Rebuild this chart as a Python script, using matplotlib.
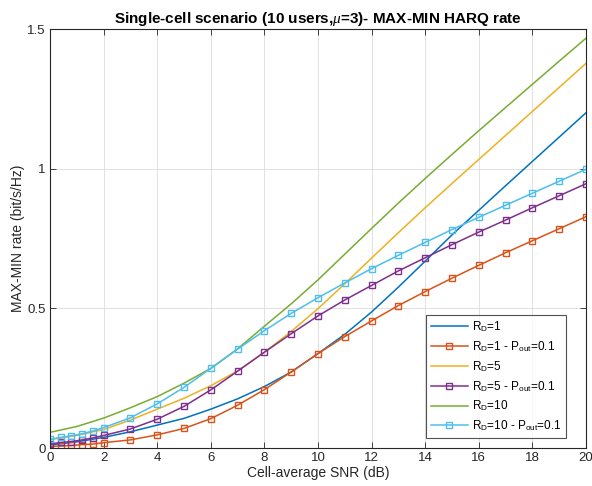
import matplotlib
matplotlib.use("Agg")
import matplotlib.pyplot as plt

plt.rcParams['font.family'] = ['Liberation Sans', 'DejaVu Sans']
plt.rcParams['mathtext.fontset'] = 'custom'
plt.rcParams['mathtext.rm'] = 'Liberation Sans'
plt.rcParams['mathtext.it'] = 'Liberation Serif:italic'

# SNR grids
snr_line = [0, 1, 2, 3, 4, 5, 6, 7, 8, 9, 10, 11, 12, 13, 14, 15, 16, 17, 18, 19, 20]
snr_mark = [0, 0.4, 0.8, 1.2, 1.6, 2, 3, 4, 5, 6, 7, 8, 9, 10, 11, 12, 13, 14, 15, 16, 17, 18, 19, 20]

# Smooth curves (no markers)
rd1 = [0.011, 0.022, 0.038, 0.058, 0.082, 0.106, 0.139, 0.176, 0.220, 0.272, 0.338, 0.407,
       0.487, 0.576, 0.669, 0.763, 0.851, 0.939, 1.026, 1.113, 1.200]
rd5 = [0.030, 0.045, 0.066, 0.100, 0.139, 0.178, 0.223, 0.276, 0.343, 0.417, 0.499, 0.588,
       0.680, 0.771, 0.860, 0.947, 1.033, 1.119, 1.205, 1.291, 1.377]
rd10 = [0.056, 0.077, 0.107, 0.144, 0.184, 0.232, 0.285, 0.355, 0.436, 0.516, 0.602, 0.694,
        0.786, 0.877, 0.965, 1.051, 1.136, 1.219, 1.302, 1.385, 1.467]

# Curves with markers (P_out = 0.1)
rd1_p = [0.006, 0.007, 0.009, 0.012, 0.014, 0.019, 0.029, 0.047, 0.070, 0.105, 0.153, 0.209,
         0.272, 0.338, 0.399, 0.455, 0.510, 0.560, 0.608, 0.654, 0.699, 0.742, 0.785, 0.828]
rd5_p = [0.014, 0.020, 0.023, 0.029, 0.036, 0.045, 0.068, 0.103, 0.149, 0.208, 0.275, 0.343,
         0.409, 0.473, 0.530, 0.582, 0.634, 0.681, 0.728, 0.773, 0.816, 0.860, 0.903, 0.946]
rd10_p = [0.031, 0.038, 0.044, 0.051, 0.061, 0.073, 0.108, 0.158, 0.217, 0.285, 0.354, 0.420,
          0.482, 0.538, 0.591, 0.642, 0.690, 0.736, 0.782, 0.826, 0.869, 0.912, 0.955, 0.998]

labels = [r'R$_\mathrm{D}$=1', r'R$_\mathrm{D}$=1 - P$_\mathrm{out}$=0.1',
          r'R$_\mathrm{D}$=5', r'R$_\mathrm{D}$=5 - P$_\mathrm{out}$=0.1',
          r'R$_\mathrm{D}$=10', r'R$_\mathrm{D}$=10 - P$_\mathrm{out}$=0.1']
colors = ['#0072BD', '#D95319', '#EDB120', '#7E2F8E', '#77AC30', '#4DBEEE']

fig = plt.figure(figsize=(5.92, 4.86), dpi=100)
ax = fig.add_axes([50/592, 38/486, 536/592, 419/486])

mk = dict(marker='s', markersize=5, markerfacecolor='none', markeredgewidth=1.0)
ax.plot(snr_line, rd1, color=colors[0], lw=1.1, label=labels[0])
ax.plot(snr_mark, rd1_p, color=colors[1], lw=1.1, label=labels[1], **mk)
ax.plot(snr_line, rd5, color=colors[2], lw=1.1, label=labels[2])
ax.plot(snr_mark, rd5_p, color=colors[3], lw=1.1, label=labels[3], **mk)
ax.plot(snr_line, rd10, color=colors[4], lw=1.1, label=labels[4])
ax.plot(snr_mark, rd10_p, color=colors[5], lw=1.1, label=labels[5], **mk)

ax.set_xlim(0, 20)
ax.set_ylim(0, 1.5)
ax.set_xticks(range(0, 21, 2))
ax.set_yticks([0, 0.5, 1, 1.5])
ax.set_yticklabels(['0', '0.5', '1', '1.5'])
ax.grid(True, color='#dcdcdc', lw=0.6)
ax.set_axisbelow(True)
ax.tick_params(direction='in', top=True, right=True, labelsize=9.5, length=4, width=0.6,
               colors='#262626', pad=3)
for s in ax.spines.values():
    s.set_color('#262626')
    s.set_linewidth(0.8)

ax.set_xlabel('Cell-average SNR (dB)', fontsize=10, color='#262626', labelpad=1)
ax.set_ylabel('MAX-MIN rate (bit/s/Hz)', fontsize=10, color='#262626', labelpad=2)
ax.set_title(r'Single-cell scenario (10 users,$\mu$=3)- MAX-MIN HARQ rate',
             fontsize=11, fontweight='bold', pad=4)

leg = ax.legend(loc='lower right', bbox_to_anchor=(0.963, 0.024), borderaxespad=0,
                fontsize=8.5, frameon=True, fancybox=False, edgecolor='#262626',
                handlelength=3.2, labelspacing=0.42, borderpad=0.4, handletextpad=0.3)
leg.get_frame().set_linewidth(0.8)

fig.savefig('out.png', dpi=100)
